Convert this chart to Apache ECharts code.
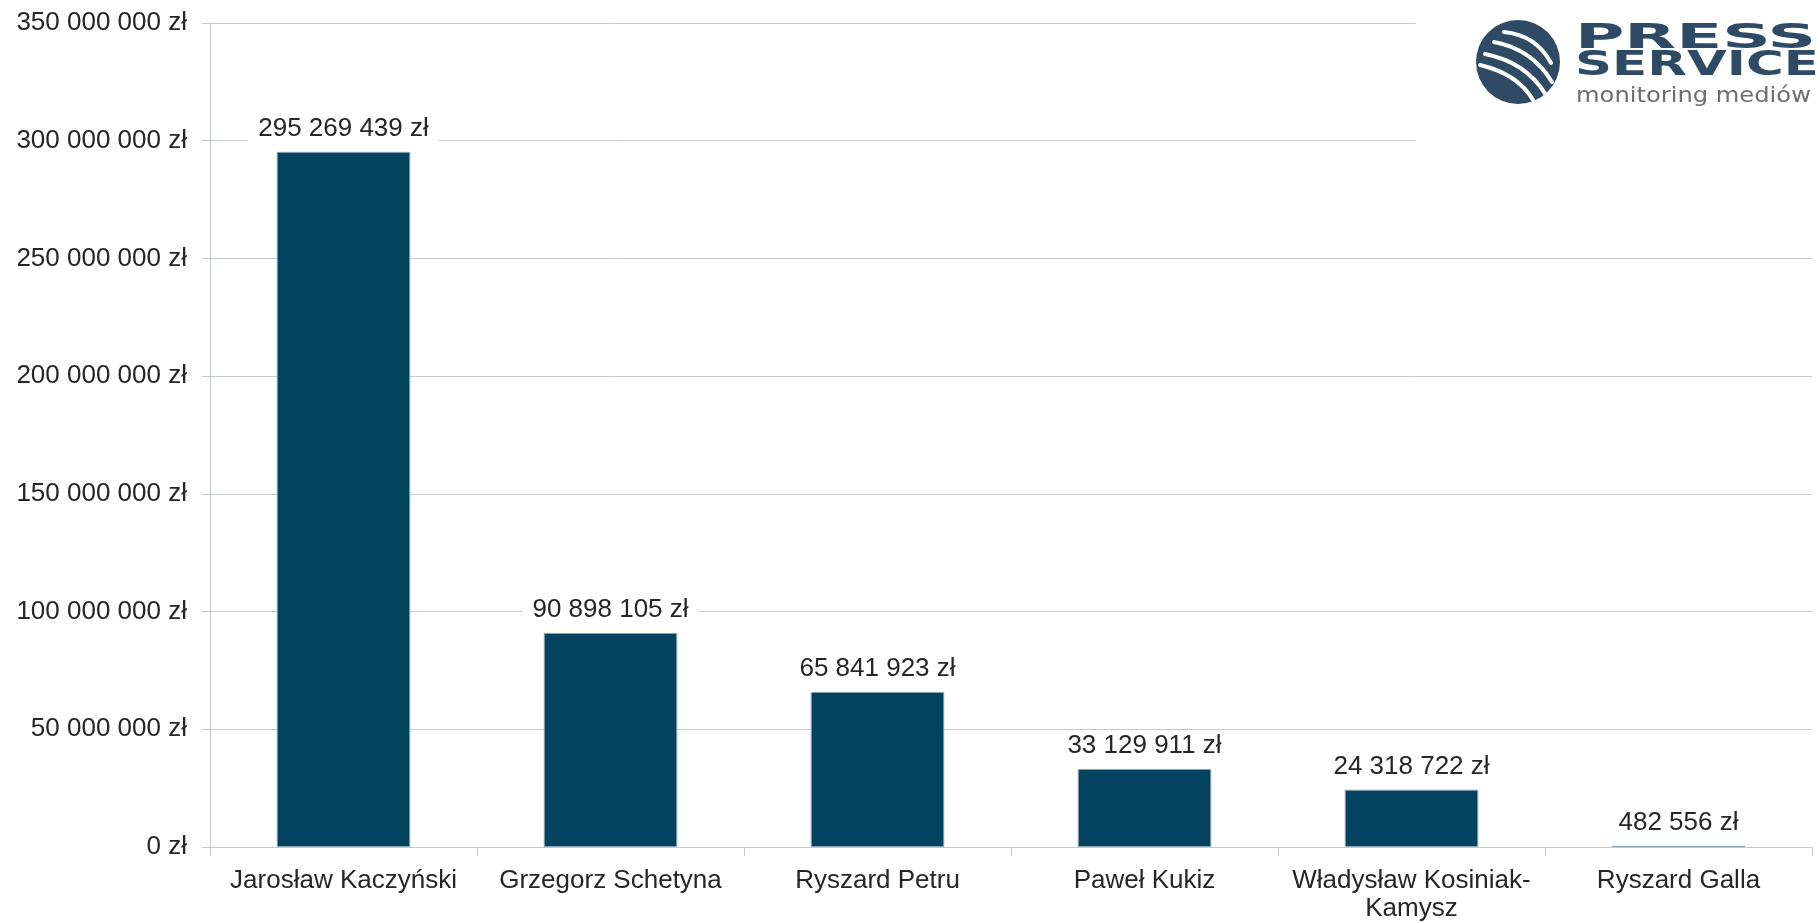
<!DOCTYPE html>
<html>
<head>
<meta charset="utf-8">
<script src="https://cdn.jsdelivr.net/npm/echarts@6/dist/echarts.min.js"></script>
<style>
  html, body { margin: 0; padding: 0; background: #fff; }
  #chart { width: 1820px; height: 923px; }
</style>
</head>
<body>
<div id="chart"></div>
<script>
const names = ['Jarosław Kaczyński', 'Grzegorz Schetyna', 'Ryszard Petru', 'Paweł Kukiz', 'Władysław Kosiniak-Kamysz', 'Ryszard Galla']
const values = [295269439, 90898105, 65841923, 33129911, 24318722, 482556]
const yMax = 350000000
const yStep = 50000000

const fmt = v => String(v).replace(/\B(?=(\d{3})+(?!\d))/g, ' ') + ' zł'

const gridColor = '#c3c9cf'
const textColor = '#262626'
const font = 'Liberation Sans, Arial, sans-serif'
const logoBlue = '#2f4a64'

// white stripes inside the logo circle (relative to circle centre)
const stripes = [
  [-14, -30, 18, -27, 33, 1],
  [-24, -20, 14, -13, 34, 20],
  [-33, -8, 8, 0, 28, 33],
  [-38, 3, 0, 12, 15, 38]
]
const cx = 1518, cy = 62

const chart = echarts.init(document.getElementById('chart'))
chart.setOption({
  animation: false,
  grid: { left: 210, top: 23, width: 1602, height: 824, containLabel: false },
  xAxis: {
    type: 'category',
    data: names,
    axisLine: { lineStyle: { color: gridColor, width: 1 } },
    axisTick: { show: true, length: 9, lineStyle: { color: gridColor } },
    axisLabel: {
      color: textColor, fontSize: 26, fontFamily: font, margin: 20, lineHeight: 28,
      interval: 0,
      formatter: v => v.replace('-', '-\n')
    }
  },
  yAxis: {
    type: 'value',
    min: 0, max: yMax, interval: yStep,
    axisLine: { show: true, lineStyle: { color: gridColor, width: 1 } },
    axisTick: { show: true, length: 8, lineStyle: { color: gridColor } },
    splitLine: { show: true, lineStyle: { color: gridColor, width: 1 } },
    axisLabel: { color: textColor, fontSize: 26, fontFamily: font, margin: 23, formatter: fmt }
  },
  series: [{
    type: 'bar',
    data: values,
    barWidth: '50%',
    itemStyle: { color: '#03435f', borderColor: '#8aa4b5', borderWidth: 1 },
    label: {
      show: true, position: 'top', distance: 8,
      color: textColor, fontSize: 26, fontFamily: font, lineHeight: 26,
      backgroundColor: '#fff', padding: [2, 10],
      formatter: p => fmt(p.value)
    }
  }],
  graphic: [
    { type: 'rect', z: 100, shape: { x: 1416, y: 0, width: 404, height: 150 }, style: { fill: '#fff' } },
    { type: 'circle', z: 101, shape: { cx, cy, r: 42 }, style: { fill: logoBlue } },
    ...stripes.map(s => ({
      type: 'bezierCurve', z: 102,
      shape: { x1: cx + s[0], y1: cy + s[1], cpx1: cx + s[2], cpy1: cy + s[3], x2: cx + s[4], y2: cy + s[5] },
      style: { stroke: '#fff', lineWidth: 4, lineCap: 'round', fill: null }
    })),
    {
      type: 'text', z: 101, x: 1575, y: 39, scaleX: 1.98,
      style: { text: 'PRESS', fill: logoBlue, font: 'bold 34px DejaVu Sans', align: 'left', verticalAlign: 'middle' }
    },
    {
      type: 'text', z: 101, x: 1575, y: 66, scaleX: 1.56,
      style: { text: 'SERVICE', fill: logoBlue, font: 'bold 33px DejaVu Sans', align: 'left', verticalAlign: 'middle' }
    },
    {
      type: 'text', z: 101, x: 1576, y: 96, scaleX: 1.1,
      style: { text: 'monitoring mediów', fill: '#6d6e70', font: '22px DejaVu Sans', align: 'left', verticalAlign: 'middle' }
    }
  ]
})
</script>
</body>
</html>
